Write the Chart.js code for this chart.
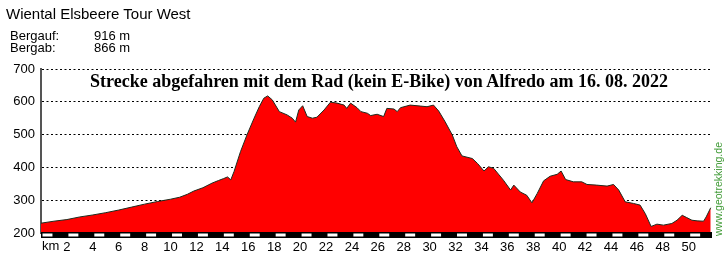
<!DOCTYPE html>
<html lang="de">
<head>
    <meta charset="UTF-8">
    <title>Wiental Elsbeere Tour West</title>
    <style>
        body { margin: 0; background: #fff; font-family: "Liberation Sans", Arial, sans-serif; }
        .wrap { position: relative; width: 726px; height: 255px; overflow: hidden; }
        #profile { position: absolute; left: 0; top: 0; }
        .txt { position: absolute; line-height: 1; white-space: nowrap; color: #000; }
        .title { left: 6px; top: 6px; font-size: 15px; }
        .small { font-size: 13px; }
        .caption { left: 90px; top: 72px; font-family: "Liberation Serif", "Times New Roman", serif; font-weight: bold; font-size: 18px; }
        .site { left: 713px; top: 236px; font-size: 10.5px; color: #3f9a35; transform: rotate(-90deg); transform-origin: 0 0; }
    </style>
</head>
<body>
<div class="wrap">
    <canvas id="profile" width="726" height="255"></canvas>
    <div class="txt title">Wiental Elsbeere Tour West</div>
    <div class="txt small" style="left:10px; top:29px;">Bergauf:</div>
    <div class="txt small" style="left:94px; top:29px;">916 m</div>
    <div class="txt small" style="left:10px; top:41px;">Bergab:</div>
    <div class="txt small" style="left:94px; top:41px;">866 m</div>
    <div class="txt caption">Strecke abgefahren mit dem Rad (kein E-Bike) von Alfredo am 16. 08. 2022</div>
    <div class="txt site">www.geotrekking.de</div>
</div>

<script src="https://cdn.jsdelivr.net/npm/chart.js"></script>
<script>
    // distance in km and elevation in m
    const kmPoints = [0, 1, 2, 3, 4, 5, 6, 7, 8, 9, 10, 10.7, 11.3, 11.8, 12.5, 13.2, 13.7, 14.1, 14.4, 14.65,
        14.9, 15.4, 15.9, 16.45, 16.85, 17.2, 17.5, 17.85, 18.4, 19.0, 19.4, 19.65, 19.9, 20.2, 20.55, 20.95,
        21.3, 21.85, 22.35, 22.85, 23.4, 23.6, 23.9, 24.4, 24.7, 25.2, 25.45, 25.95, 26.45, 26.7, 27.25, 27.5,
        27.75, 28.5, 29.3, 29.8, 30.3, 30.7, 31.2, 31.75, 32.1, 32.5, 33.3, 33.7, 34.2, 34.55, 34.95, 35.7,
        36.25, 36.5, 37.0, 37.5, 37.9, 38.3, 38.8, 39.3, 39.85, 40.15, 40.5, 41.1, 41.75, 42.15, 42.9, 43.7,
        44.2, 44.6, 45.1, 45.75, 46.25, 46.65, 47.1, 47.55, 48.05, 48.7, 49.1, 49.5, 49.85, 50.25, 50.65,
        51.15, 51.35, 51.7];
    const elevation = [230, 236, 241, 249, 255, 262, 270, 279, 288, 296, 303, 309, 318, 328, 338, 352, 360, 366, 371, 362,
        387, 448, 499, 550, 585, 611, 618, 606, 570, 560, 550, 538, 575, 588, 555, 550,
        553, 575, 599, 596, 590, 580, 596, 582, 570, 565, 558, 562, 555, 580, 578, 570,
        582, 590, 587, 585, 590, 572, 539, 499, 463, 435, 427, 412, 389, 402, 397, 361,
        331, 346, 325, 315, 292, 320, 359, 373, 379, 389, 363, 356, 356, 348, 346, 343,
        348, 331, 295, 290, 285, 259, 220, 227, 224, 229, 239, 254, 247, 239, 237,
        236, 249, 277];
    const yTicks = [200, 300, 400, 500, 600, 700];
    const kmMax = 51.8;

    const points = kmPoints.map((k, i) => ({ x: k, y: elevation[i] }));

    // km stripe under the plot plus the "km" label
    const stripePlugin = {
        id: 'kmStripe',
        afterDatasetsDraw(chart) {
            const ctx = chart.ctx;
            const xs = chart.scales.x;
            const top = chart.chartArea.bottom - 1;
            const h = 6;
            ctx.save();
            ctx.fillStyle = '#000';
            ctx.fillRect(xs.getPixelForValue(0), top, xs.getPixelForValue(kmMax) - xs.getPixelForValue(0), h);
            ctx.fillStyle = '#fff';
            for (let k = 0; k < kmMax; k += 2) {
                const a = xs.getPixelForValue(k) + 1.5;
                const b = xs.getPixelForValue(Math.min(k + 1, kmMax)) - 1.5;
                ctx.fillRect(a, top + 1.5, b - a, h - 3);
            }
            ctx.fillStyle = '#000';
            ctx.font = '13px "Liberation Sans", Arial, sans-serif';
            ctx.textAlign = 'left';
            ctx.textBaseline = 'alphabetic';
            ctx.fillText('km', xs.getPixelForValue(0) + 1, 250);
            ctx.restore();
        }
    };

    new Chart(document.getElementById('profile'), {
        type: 'line',
        data: {
            datasets: [{
                data: points,
                borderColor: '#1d2b1d',
                borderWidth: 1,
                backgroundColor: '#ff0000',
                fill: 'start',
                pointRadius: 0,
                tension: 0
            }]
        },
        options: {
            responsive: false,
            animation: false,
            layout: { padding: { top: 69, right: 14, left: 0, bottom: 0 } },
            plugins: { legend: { display: false }, tooltip: { enabled: false } },
            scales: {
                x: {
                    type: 'linear',
                    min: 0,
                    max: kmMax,
                    afterFit: s => { s.height = 22; },
                    grid: { display: false, drawTicks: false },
                    border: { display: false },
                    ticks: {
                        stepSize: 2,
                        includeBounds: false,
                        autoSkip: false,
                        maxRotation: 0,
                        padding: 7,
                        color: '#000',
                        font: { family: '"Liberation Sans", Arial, sans-serif', size: 13 },
                        callback: v => (v > 0 && v % 2 === 0) ? String(v) : ''
                    }
                },
                y: {
                    min: 200,
                    max: 700,
                    afterFit: s => { s.width = 41; },
                    afterBuildTicks: s => { s.ticks = yTicks.map(v => ({ value: v })); },
                    // dash here applies to the grid lines, the axis line stays solid
                    border: { display: true, color: '#555', width: 2, dash: [2, 2.5] },
                    grid: {
                        drawTicks: false,
                        color: ctx => ctx.tick && ctx.tick.value === 200 ? 'rgba(0,0,0,0)' : '#000',
                        lineWidth: 1
                    },
                    ticks: {
                        padding: 6,
                        color: '#000',
                        font: { family: '"Liberation Sans", Arial, sans-serif', size: 13 }
                    }
                }
            }
        },
        plugins: [stripePlugin]
    });
</script>
</body>
</html>
